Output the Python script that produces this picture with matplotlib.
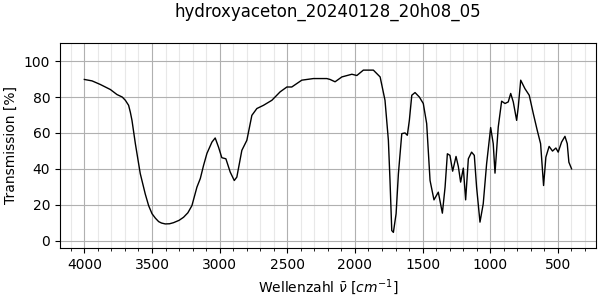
import matplotlib
matplotlib.use("Agg")
import matplotlib.pyplot as plt
from matplotlib.ticker import MultipleLocator

title = "hydroxyaceton_20240128_20h08_05"

wavenumber = [4000, 3943, 3882, 3808, 3759, 3720, 3697, 3673, 3660, 3648, 3623, 3587, 3550,
              3525, 3500, 3475, 3451, 3430, 3402, 3370, 3341, 3300, 3267, 3235, 3205, 3168,
              3143, 3119, 3094, 3057, 3033, 3008,
              2984, 2954, 2922, 2892, 2873, 2836, 2799, 2762, 2725, 2676, 2614, 2553,
              2503, 2467, 2393, 2307, 2208, 2184, 2147, 2097, 2023, 1986, 1938, 1864,
              1814, 1778, 1753, 1741, 1728, 1716, 1696, 1679, 1654, 1630, 1613, 1598,
              1580, 1556, 1524, 1495, 1470, 1445, 1416, 1384, 1354, 1334, 1317, 1298,
              1278, 1253, 1236, 1219, 1199, 1182, 1162, 1138, 1118, 1101, 1076, 1052,
              1027, 997, 978, 965, 941, 916, 891, 867, 849, 830, 805, 793, 775, 744,
              712, 682, 653, 628, 606, 589, 565, 540, 515, 498, 473, 448, 431, 419, 399]
transmission = [89.8, 89.0, 87.0, 84.2, 81.4, 80.0, 78.2, 75.4, 71.5, 67.0, 54.0, 37.4, 26.0,
                19.5, 15.0, 12.5, 10.6, 9.8, 9.3, 9.4, 10.0, 11.3, 13.0, 15.5, 19.5, 29.8,
                34.6, 41.9, 48.6, 54.9, 57.2, 52.0,
                46.2, 45.6, 38.2, 33.5, 35.4, 50.3, 55.9, 69.8, 73.6, 75.4, 78.2, 82.9,
                85.6, 85.6, 89.4, 90.3, 90.3, 89.8, 88.5, 91.2, 92.7, 92.0, 95.0, 95.0,
                91.2, 78.2, 55.9, 33.5, 5.6, 4.6, 15.0, 37.2, 59.6, 60.0, 58.7, 67.0,
                81.0, 82.5, 80.0, 76.4, 65.2, 33.5, 22.7, 27.0, 15.3, 29.8, 48.4, 47.5,
                38.7, 46.9, 41.3, 32.6, 40.4, 22.7, 45.6, 49.3, 47.5, 29.8, 10.3, 20.5,
                42.8, 63.0, 54.0, 37.6, 63.3, 77.7, 76.4, 77.3, 82.0, 77.3, 67.0, 74.5, 89.4, 84.7,
                81.0, 70.8, 61.5, 54.0, 30.7, 46.5, 52.5, 49.9, 51.6, 49.3, 54.9, 58.1, 54.0, 43.7, 40.0]

fig = plt.figure(figsize=(6, 3), dpi=100)
ax = fig.add_axes([0.1, 0.174, 0.893, 0.682])
ax.plot(wavenumber, transmission, color="black", linewidth=1)
ax.set_xlim(4180, 220)
ax.set_ylim(-4, 110)
ax.xaxis.set_major_locator(MultipleLocator(500))
ax.xaxis.set_minor_locator(MultipleLocator(100))
ax.yaxis.set_major_locator(MultipleLocator(20))
ax.grid(which="major", color="#b0b0b0", linewidth=0.8)
ax.grid(which="minor", axis="x", color="#e8e8e8", linewidth=0.8)
ax.set_axisbelow(True)
ax.set_xlabel(r"Wellenzahl $\bar{\nu}$ [$cm^{-1}$]")
ax.set_ylabel("Transmission [%]")
ax.set_title(title + "\n", pad=4)
fig.savefig("out.png", dpi=100)
